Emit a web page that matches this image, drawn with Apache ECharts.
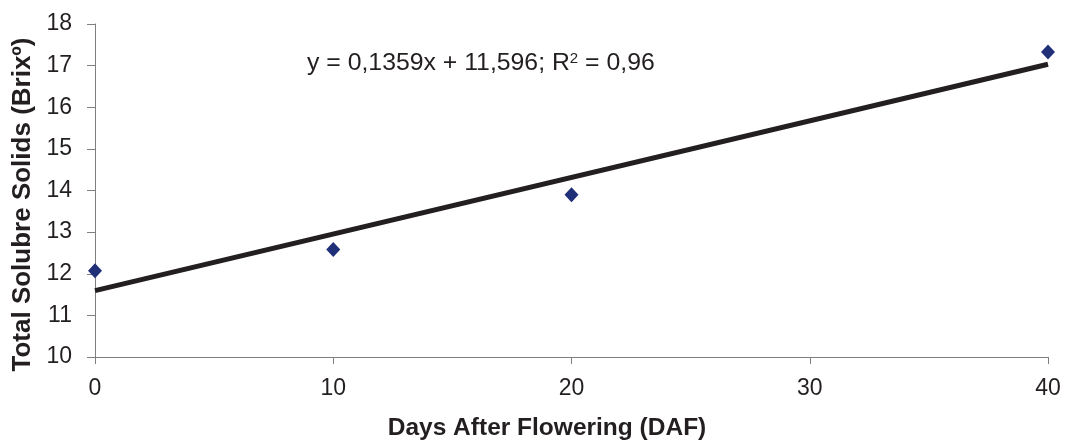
<!DOCTYPE html>
<html>
<head>
<meta charset="utf-8">
<script src="https://cdn.jsdelivr.net/npm/echarts@6/dist/echarts.min.js"></script>
<style>
  html, body { margin: 0; padding: 0; background: #fff; }
  #chart { width: 1065px; height: 440px; }
</style>
</head>
<body>
<div id="chart"></div>
<script>
// measured points
const daysAfter = [0, 10, 20, 40];
const solids = [12.07, 12.58, 13.9, 17.33];
// linear trend endpoints (y = 0,1359x + 11,596)
const trendX = [0, 40];
const trendY = [11.596, 17.032];
const equationText = 'y = 0,1359x + 11,596; R{sup|2} = 0,96';

const textColor = '#231f20';
const fontFamily = '"Liberation Sans", Arial, sans-serif';

const myChart = echarts.init(document.getElementById('chart'));

myChart.setOption({
  animation: false,
  textStyle: { fontFamily },
  grid: { left: 95, right: 17, top: 24, bottom: 83, outerBoundsMode: 'none', containLabel: false },
  xAxis: {
    type: 'value',
    min: 0,
    max: 40,
    interval: 10,
    name: 'Days After Flowering (DAF)',
    nameLocation: 'middle',
    nameGap: 59,
    nameTextStyle: {
      fontSize: 24.5, fontWeight: 'bold', color: textColor,
      padding: [0, 49, 0, 0],
    },
    axisLine: { lineStyle: { color: '#7f7f7f', width: 1 } },
    axisTick: { show: true, length: 7, lineStyle: { color: '#7f7f7f' } },
    axisLabel: { fontSize: 23, color: textColor, margin: 20 },
    splitLine: { show: false },
  },
  yAxis: {
    type: 'value',
    min: 10,
    max: 18,
    interval: 1,
    name: 'Total Solubre Solids (Brixº)',
    nameLocation: 'middle',
    nameGap: 57,
    nameRotate: 90,
    nameTextStyle: {
      fontSize: 26, fontWeight: 'bold', color: textColor,
      padding: [0, 28, 0, 0],
    },
    axisLine: { show: true, lineStyle: { color: '#7f7f7f', width: 1 } },
    axisTick: { show: true, length: 8, lineStyle: { color: '#7f7f7f' } },
    axisLabel: { fontSize: 23, color: textColor, margin: 23 },
    splitLine: { show: false },
  },
  graphic: [
    {
      type: 'text',
      left: 307,
      top: 51,
      style: {
        text: equationText,
        fontSize: 24.8,
        fontFamily,
        fill: textColor,
        rich: {
          sup: { fontSize: 15, verticalAlign: 'top', padding: [0, 0, 9, 0] },
        },
      },
    },
  ],
  series: [
    {
      type: 'line',
      data: trendX.map((x, i) => [x, trendY[i]]),
      showSymbol: false,
      symbol: 'none',
      lineStyle: { color: '#231f20', width: 5 },
      z: 2,
    },
    {
      type: 'scatter',
      data: daysAfter.map((x, i) => [x, solids[i]]),
      symbol: 'diamond',
      symbolSize: [14, 15],
      itemStyle: { color: '#1f2f78', opacity: 1 },
      z: 3,
    },
  ],
});
</script>
</body>
</html>
